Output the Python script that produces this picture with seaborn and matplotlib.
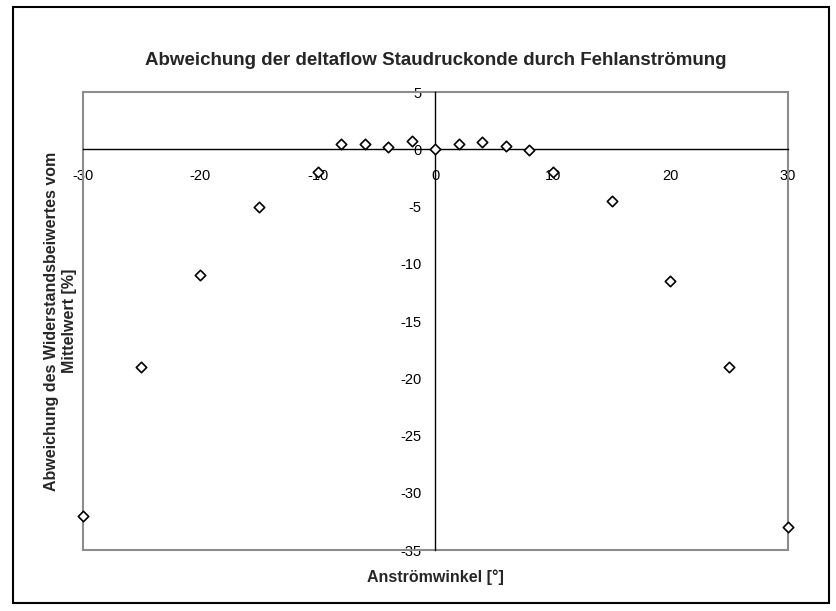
import numpy as np
import pandas as pd
import matplotlib
matplotlib.use("Agg")
import matplotlib.pyplot as plt
import seaborn as sns
from matplotlib.patches import Rectangle

# --- Datos ---
winkel = [-30, -25, -20, -15, -10, -8, -6, -4, -2, 0, 2, 4, 6, 8, 10, 15, 20, 25, 30]
abweichung = [-32.0, -19.0, -11.0, -5.0, -2.0, 0.5, 0.5, 0.2, 0.7, 0.0,
              0.5, 0.6, 0.3, -0.1, -2.0, -4.5, -11.5, -19.0, -33.0]
x_ticks = [-30, -20, -10, 0, 10, 20, 30]
y_ticks = [5, 0, -5, -10, -15, -20, -25, -30, -35]

titel = "Abweichung der deltaflow Staudruckonde durch Fehlanströmung"
x_label = "Anströmwinkel [°]"
y_label_1 = "Abweichung des Widerstandsbeiwertes vom"
y_label_2 = "Mittelwert [%]"

df = pd.DataFrame({"winkel": winkel, "abweichung": abweichung})

sns.set_theme(style="white")
plt.rcParams["font.family"] = ["Liberation Sans", "DejaVu Sans"]
plt.rcParams["axes.unicode_minus"] = False

fig = plt.figure(figsize=(8.37, 6.11), dpi=100)
ax = fig.add_axes([0.0988, 0.0998, 0.8427, 0.7496])

sns.scatterplot(data=df, x="winkel", y="abweichung", ax=ax, marker="D", s=28,
                facecolor="white", edgecolor="black", linewidth=1.2, zorder=5,
                clip_on=False)

ax.set_xlim(-30, 30)
ax.set_ylim(-35, 5)
ax.set_xticks(x_ticks)
ax.set_yticks(y_ticks)

# Achsen kreuzen sich im Nullpunkt
ax.spines["left"].set_position(("data", 0))
ax.spines["bottom"].set_position(("data", 0))
ax.spines["right"].set_visible(False)
ax.spines["top"].set_visible(False)
for s in ["left", "bottom"]:
    ax.spines[s].set_color("black")
    ax.spines[s].set_linewidth(1.0)

ax.tick_params(axis="both", direction="inout", length=8, width=1.0,
               colors="black", labelsize=10.5, pad=6)
ax.tick_params(axis="x", pad=10)

# grauer Rahmen der Zeichnungsfläche
ax.add_patch(Rectangle((0, 0), 1, 1, transform=ax.transAxes, fill=False,
                       edgecolor="#8c8c8c", linewidth=1.5, zorder=1, clip_on=False))

ax.set_xlabel("")
ax.set_ylabel("")
ax.text(0.5, 1.068, titel, transform=ax.transAxes, ha="center", va="center",
        fontsize=13.5, fontweight="bold")
ax.text(0.5, -0.06, x_label, transform=ax.transAxes, ha="center", va="center",
        fontsize=11.5, fontweight="bold")
# Y-Beschriftung in zwei Zeilen
ax.text((52 - 82.7) / 705, 0.5, y_label_1, transform=ax.transAxes, ha="center",
        va="center", rotation=90, fontsize=11.5, fontweight="bold")
ax.text((70 - 82.7) / 705, 0.5, y_label_2, transform=ax.transAxes, ha="center",
        va="center", rotation=90, fontsize=11.5, fontweight="bold")

# schwarzer Außenrahmen
fig.patches.append(Rectangle((13 / 837, 8 / 611), 816 / 837, 596 / 611,
                             transform=fig.transFigure, fill=False,
                             edgecolor="black", linewidth=1.5))

fig.savefig("out.png", dpi=100)
